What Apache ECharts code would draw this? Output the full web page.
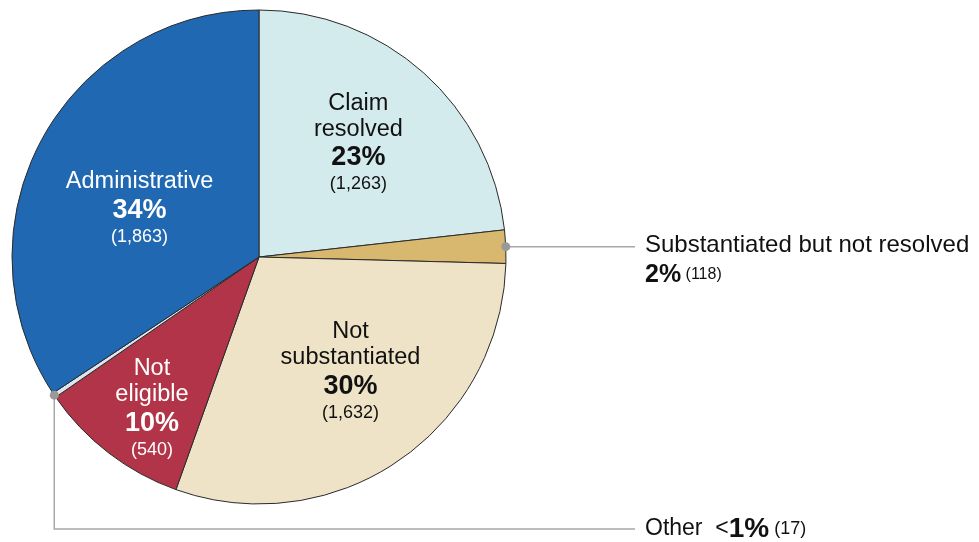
<!DOCTYPE html>
<html>
<head>
<meta charset="utf-8">
<script src="https://cdn.jsdelivr.net/npm/echarts@6/dist/echarts.min.js"></script>
<style>
html,body{margin:0;padding:0;background:#fff;}
#c{width:979px;height:542px;}
</style>
</head>
<body>
<div id="c"></div>
<script>
// ---- data ----
const categories = ['Claim resolved', 'Substantiated but not resolved', 'Not substantiated', 'Not eligible', 'Other', 'Administrative'];
const labelLines = ['Claim\nresolved', 'Substantiated but not resolved', 'Not\nsubstantiated', 'Not\neligible', 'Other', 'Administrative'];
const values = [1263, 118, 1632, 540, 17, 1863];
const colors = ['#d4ebee', '#d8b86f', '#efe3c7', '#b23448', '#dde4ee', '#2069b2'];
const textColors = ['#111', '#111', '#111', '#fff', '#111', '#fff'];

const total = values.reduce((a, b) => a + b, 0);
const pctText = v => { const p = Math.round(v / total * 100); return p < 1 ? '<1%' : p + '%'; };
const cntText = v => '(' + v.toLocaleString('en-US') + ')';

const FONT = '"Liberation Sans", Arial, sans-serif';
const CX = 259, CY = 257, R = 247;
const SUB_X = 645, OTHER_X = 645, OTHER_Y = 529;
// inside label nudges
const nudges = {0: [15, -20], 2: [20, 10], 3: [-30, 51], 5: [-8, 11]};

function midPoint(i) {
  let cum = 0;
  for (let k = 0; k < i; k++) cum += values[k];
  const a = (90 - (cum + values[i] / 2) / total * 360) * Math.PI / 180;
  return [CX + R * Math.cos(a), CY - R * Math.sin(a)];
}

const insideRich = c => ({
  n: {fontSize: 23.5, lineHeight: 26, color: c, fontFamily: FONT},
  p: {fontSize: 27, lineHeight: 31, fontWeight: 'bold', color: c, fontFamily: FONT},
  c: {fontSize: 18, lineHeight: 22, color: c, fontFamily: FONT}
});

const data = values.map((v, i) => {
  const item = {value: v, name: categories[i], itemStyle: {color: colors[i]}};
  if (i === 1) {
    item.label = {
      position: 'outside',
      formatter: '{n|' + labelLines[i] + '}\n{p|' + pctText(v) + '}{c| ' + cntText(v) + '}',
      rich: {
        n: {fontSize: 24, lineHeight: 26, color: '#111', fontFamily: FONT},
        p: {fontSize: 25, lineHeight: 32, fontWeight: 'bold', color: '#111', fontFamily: FONT},
        c: {fontSize: 16, lineHeight: 32, color: '#111', fontFamily: FONT}
      }
    };
    item.labelLine = {show: true};
  } else if (i === 4) {
    item.label = {
      position: 'outside',
      formatter: '{n|Other  <}{p|1%}{c| ' + cntText(v) + '}',
      rich: {
        n: {fontSize: 23, color: '#111', fontFamily: FONT},
        p: {fontSize: 28, fontWeight: 'bold', color: '#111', fontFamily: FONT},
        c: {fontSize: 18, color: '#111', fontFamily: FONT}
      }
    };
    item.labelLine = {show: true};
  } else {
    item.label = {
      position: 'inside',
      formatter: labelLines[i].split('\n').map(s => '{n|' + s + '}').join('\n') + '\n{p|' + pctText(v) + '}\n{c|' + cntText(v) + '}',
      rich: insideRich(textColors[i])
    };
  }
  return item;
});

const chart = echarts.init(document.getElementById('c'), null, {renderer: 'canvas'});
chart.setOption({
  backgroundColor: '#fff',
  animation: false,
  series: [{
    type: 'pie',
    center: [CX, CY],
    radius: R,
    startAngle: 90,
    clockwise: true,
    avoidLabelOverlap: false,
    itemStyle: {borderColor: '#2a2a2a', borderWidth: 1},
    label: {show: true, position: 'inside', align: 'center'},
    labelLine: {show: false, lineStyle: {color: '#a8a8a8', width: 1.5}},
    emphasis: {disabled: true},
    data: data,
    labelLayout: function (params) {
      const i = params.dataIndex;
      if (i === 1) {
        const p0 = midPoint(1);
        return {
          x: SUB_X, y: p0[1] - 14, align: 'left', verticalAlign: 'top',
          labelLinePoints: [[p0[0], p0[1]], [p0[0] + 10, p0[1]], [SUB_X - 10, p0[1]]]
        };
      }
      if (i === 4) {
        const p0 = midPoint(4);
        return {
          x: OTHER_X, y: OTHER_Y, align: 'left', verticalAlign: 'middle',
          labelLinePoints: [[p0[0], p0[1]], [p0[0], OTHER_Y], [OTHER_X - 10, OTHER_Y]]
        };
      }
      const d = nudges[i] || [0, 0];
      return {dx: d[0], dy: d[1]};
    }
  }],
  graphic: [1, 4].map(i => {
    const p = midPoint(i);
    return {type: 'circle', shape: {cx: p[0], cy: p[1], r: 4.5}, style: {fill: '#999'}, z: 100};
  })
});
</script>
</body>
</html>
